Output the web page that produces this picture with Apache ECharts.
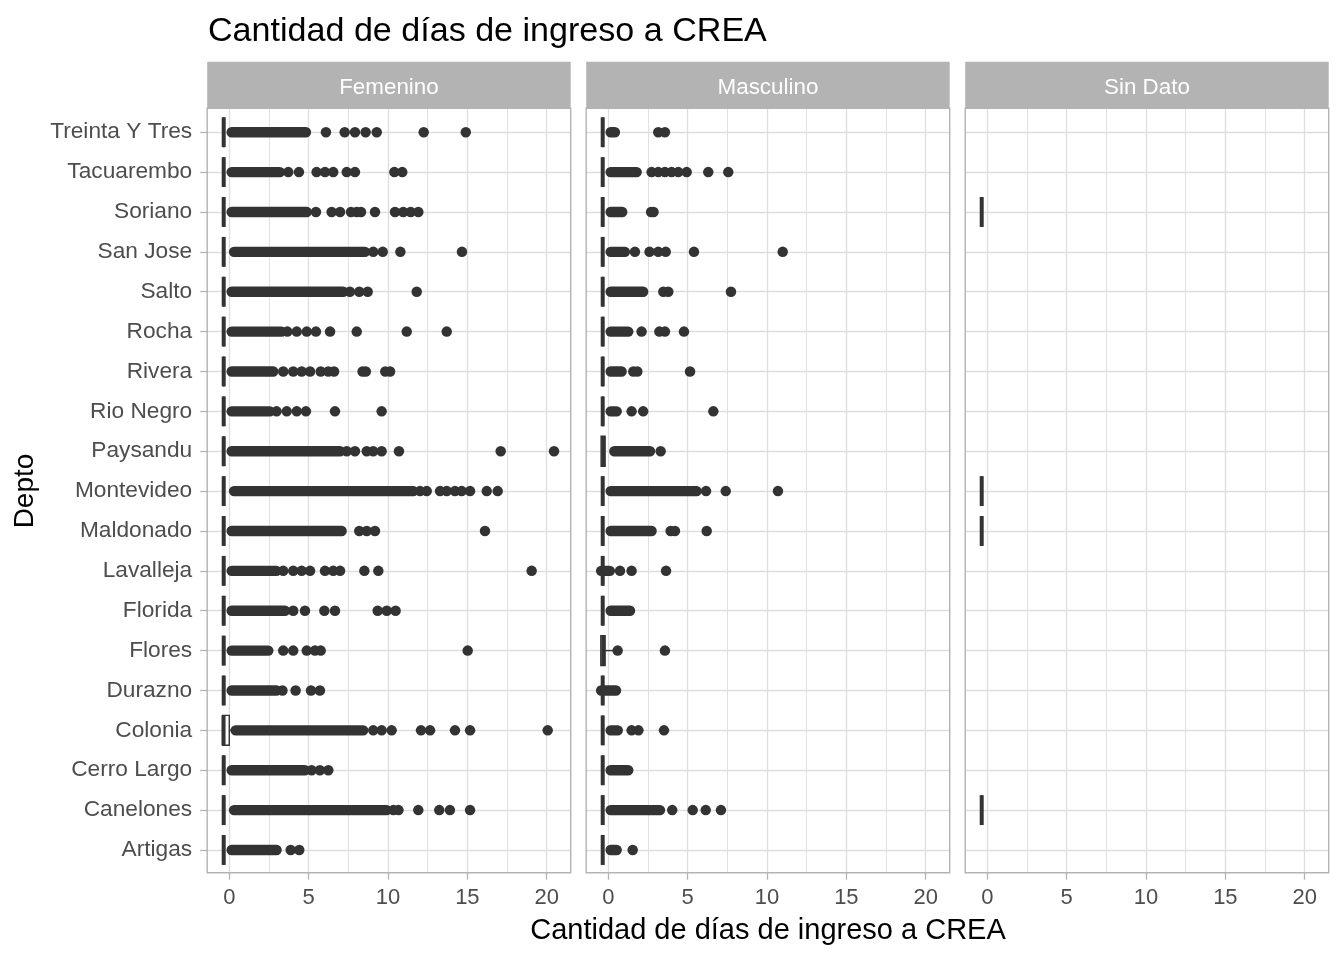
<!DOCTYPE html>
<html><head><meta charset="utf-8">
<script src="https://cdn.jsdelivr.net/npm/echarts@6/dist/echarts.min.js"></script>
<style>html,body{margin:0;padding:0;background:#fff}#c{width:1344px;height:960px}</style>
</head><body><div id="c"></div>
<script>
// Categories, bottom to top
const depts = ['Artigas','Canelones','Cerro Largo','Colonia','Durazno','Flores','Florida','Lavalleja','Maldonado','Montevideo','Paysandu','Rio Negro','Rivera','Rocha','Salto','San Jose','Soriano','Tacuarembo','Treinta Y Tres'];
const facets = ['Femenino','Masculino','Sin Dato'];
const xTicks = [0,5,10,15,20];
const xMinor = [2.5,7.5,12.5,17.5];
const yTicks = [0,1,2,3,4,5,6,7,8,9,10,11,12,13,14,15,16,17,18];

// Box stats [min, q1, median, q3, max]
const B0 = [-0.35,-0.35,-0.35,-0.35,-0.35];
const femBox = [B0,B0,B0,[-0.42,-0.42,-0.36,0.0,0.25],B0,B0,B0,B0,B0,B0,B0,B0,B0,B0,B0,B0,B0,B0,B0];
const mascBox = [B0,B0,B0,B0,B0,[-0.47,-0.47,-0.32,-0.2,0.32],B0,B0,B0,B0,[-0.45,-0.45,-0.32,-0.2,-0.2],B0,B0,B0,B0,B0,B0,B0,B0];
const sdBox = [null,B0,null,null,null,null,null,null,B0,B0,null,null,null,null,null,null,B0,null,null];

// Densely packed outlier runs [from, to]
const femDense = [[0.15,2.98],[0.3,9.92],[0.15,4.77],[0.4,8.44],[0.15,2.98],[0.15,2.46],[0.15,3.51],[0.15,2.98],[0.15,7.08],[0.3,11.6],[0.15,6.98],[0.15,2.56],[0.15,2.77],[0.15,3.3],[0.15,7.18],[0.3,8.55],[0.15,4.88],[0.15,3.19],[0.15,4.83]];
const mascDense = [[0.15,0.53],[0.15,3.26],[0.15,1.26],[0.15,0.6],[-0.45,0.49],null,[0.15,1.37],[-0.45,0.1],[0.15,2.73],[0.15,5.57],[0.38,2.63],[0.15,0.53],[0.15,0.84],[0.15,1.26],[0.15,2.2],[0.15,1.05],[0.15,0.88],[0.15,1.79],[0.15,0.42]];
const sdDense = [null,null,null,null,null,null,null,null,null,null,null,null,null,null,null,null,null,null,null];

// Separate outliers
const femOut = [
  [3.87,4.41],
  [10.34,10.66,11.91,13.23,13.9,15.17],
  [5.19,5.71,6.24],
  [9.07,9.6,10.23,12.08,12.65,14.22,15.17,20.06],
  [3.35,4.18,5.15,5.71],
  [3.4,4.03,4.88,5.4,5.76,15.02],
  [4.03,4.77,5.99,6.66,9.35,9.92,10.48],
  [3.4,4.03,4.56,5.09,6.03,6.55,6.98,8.51,9.39,19.05],
  [8.19,8.66,9.18,16.11],
  [12.02,12.44,13.28,13.7,14.22,14.64,15.17,16.22,16.91],
  [7.4,7.92,8.66,9.07,9.6,10.69,17.1,20.46],
  [2.98,3.62,4.25,4.83,6.66,9.6],
  [3.4,4.03,4.56,5.09,5.76,6.24,6.6,8.4,8.6,9.83,10.13],
  [3.66,4.25,4.88,5.46,6.35,8.03,11.18,13.7],
  [7.6,8.19,8.72,11.81],
  [9.07,9.67,10.78,14.66],
  [5.46,6.45,6.98,7.67,8.03,8.3,9.18,10.44,10.96,11.43,11.91],
  [3.72,4.39,5.5,6.03,6.55,7.4,7.92,10.4,10.9],
  [6.09,7.27,7.92,8.59,9.29,12.25,14.9]
];
const mascOut = [
  [1.54],
  [4.03,5.32,6.14,7.1],
  [],
  [1.47,1.9,3.51],
  [],
  [0.59,3.57],
  [],
  [0.74,1.47,3.64],
  [3.93,4.2,6.2],
  [6.16,7.4,10.69],
  [3.3],
  [1.47,2.2,6.62],
  [1.58,1.83,5.15],
  [2.1,3.22,3.57,4.77],
  [3.47,3.78,7.73],
  [1.68,2.6,3.15,3.62,5.4,10.99],
  [2.7,2.85],
  [2.73,3.15,3.57,3.99,4.41,4.94,6.3,7.56],
  [3.15,3.57]
];
const sdOut = [[],[],[],[],[],[],[],[],[],[],[],[],[],[],[],[],[],[],[]];

const FONT = "'Liberation Sans', Arial, sans-serif";
const PL = [207.2, 586.2, 965.2];
const PW = 363.5, PT = 108.3, PH = 764.4;
const XMIN = -1.39, XMAX = 21.51;
const YMIN = -0.57, YMAX = 18.6;
const DARK = '#333333';

function denseData(arr){ const o=[]; arr.forEach((d,i)=>{ if(d) o.push([d[0],d[1],i]); }); return o; }
function outData(arr){ const o=[]; arr.forEach((l,i)=>l.forEach(v=>o.push([v,i]))); return o; }
function boxData(arr){ const o=[]; arr.forEach((b,i)=>{ if(b) o.push([i].concat(b)); }); return o; }

function renderDense(params, api){
  const y = api.value(2);
  const p1 = api.coord([api.value(0), y]);
  const p2 = api.coord([api.value(1), y]);
  const r = 5.2;
  return {type:'rect', shape:{x:p1[0]-r, y:p1[1]-r, width:p2[0]-p1[0]+2*r, height:2*r, r:r}, style:{fill:DARK}};
}
function renderBox(params, api){
  const y = api.value(0);
  const h = api.size([0,1])[1]*0.375;
  const c = k => api.coord([api.value(k), y]);
  const pMin=c(1), pQ1=c(2), pMed=c(3), pQ3=c(4), pMax=c(5);
  const yc = pMed[1];
  return {type:'group', children:[
    {type:'line', shape:{x1:pMin[0],y1:yc,x2:pQ1[0],y2:yc}, style:{stroke:DARK,lineWidth:1.4}},
    {type:'line', shape:{x1:pQ3[0],y1:yc,x2:pMax[0],y2:yc}, style:{stroke:DARK,lineWidth:1.4}},
    {type:'rect', shape:{x:pQ1[0],y:yc-h,width:pQ3[0]-pQ1[0],height:2*h}, style:{stroke:DARK,lineWidth:1.4,fill:'#ffffff'}},
    {type:'line', shape:{x1:pMed[0],y1:yc-h,x2:pMed[0],y2:yc+h}, style:{stroke:DARK,lineWidth:4}}
  ]};
}

const boxes = [femBox, mascBox, sdBox];
const denses = [femDense, mascDense, sdDense];
const outs = [femOut, mascOut, sdOut];

const grid = [], xAxis = [], yAxis = [], series = [], graphic = [];
for (let i=0;i<3;i++){
  grid.push({left:PL[i], top:PT, width:PW, height:PH, show:false});
  xAxis.push({gridIndex:i, type:'value', min:XMIN, max:XMAX, position:'bottom',
    axisLine:{show:false, onZero:false},
    axisTick:{show:true, length:7, customValues:xTicks, lineStyle:{color:'#b3b3b3', width:1.3}},
    axisLabel:{customValues:xTicks, fontSize:22, color:'#4d4d4d', margin:14, fontFamily:FONT},
    splitLine:{show:true, lineStyle:{color:'#dedede', width:1.3}}});
  xAxis.push({gridIndex:i, type:'value', min:XMIN, max:XMAX, position:'top',
    axisLine:{show:false, onZero:false},
    axisTick:{show:false, customValues:xMinor},
    axisLabel:{show:false, customValues:xMinor},
    splitLine:{show:true, lineStyle:{color:'#dedede', width:0.9}}});
  yAxis.push({gridIndex:i, type:'value', min:YMIN, max:YMAX, position:'left',
    axisLine:{show:false, onZero:false},
    axisTick:{show:i===0, length:7, customValues:yTicks, lineStyle:{color:'#b3b3b3', width:1.3}},
    axisLabel:{show:i===0, customValues:yTicks, fontSize:22.7, color:'#4d4d4d', margin:15, fontFamily:FONT,
      padding:[7,0,0,0], formatter: v => depts[Math.round(v)]},
    splitLine:{show:true, lineStyle:{color:'#dedede', width:1.3}}});
  series.push({type:'custom', xAxisIndex:2*i, yAxisIndex:i, renderItem:renderDense,
    encode:{x:[0,1], y:2}, data:denseData(denses[i]), silent:true, z:3});
  series.push({type:'scatter', xAxisIndex:2*i, yAxisIndex:i, data:outData(outs[i]),
    symbol:'circle', symbolSize:10.5, itemStyle:{color:DARK, opacity:1}, silent:true, z:4});
  series.push({type:'custom', xAxisIndex:2*i, yAxisIndex:i, renderItem:renderBox,
    encode:{x:[1,2,3,4,5], y:0}, data:boxData(boxes[i]), silent:true, z:5});
  graphic.push({type:'rect', shape:{x:PL[i], y:61.7, width:PW, height:PT-61.7}, style:{fill:'#b3b3b3'}, silent:true});
  graphic.push({type:'text', x:PL[i]+PW/2, y:87.5, style:{text:facets[i], fill:'#ffffff', font:'22.4px '+FONT, align:'center', verticalAlign:'middle'}, silent:true});
  graphic.push({type:'rect', shape:{x:PL[i], y:PT, width:PW, height:PH}, style:{fill:null, stroke:'#b3b3b3', lineWidth:1.4}, z:100, silent:true});
}
graphic.push({type:'text', x:208, y:32, style:{text:'Cantidad de días de ingreso a CREA', fill:'#000000', font:'34.1px '+FONT, align:'left', verticalAlign:'middle'}, silent:true});
graphic.push({type:'text', x:768, y:931, style:{text:'Cantidad de días de ingreso a CREA', fill:'#000000', font:'29px '+FONT, align:'center', verticalAlign:'middle'}, silent:true});
graphic.push({type:'text', x:25, y:491, rotation:Math.PI/2, style:{text:'Depto', fill:'#000000', font:'28px '+FONT, align:'center', verticalAlign:'middle'}, silent:true});

const chart = echarts.init(document.getElementById('c'), null, {renderer:'canvas'});
chart.setOption({animation:false, backgroundColor:'#ffffff', grid, xAxis, yAxis, series, graphic});
</script></body></html>
